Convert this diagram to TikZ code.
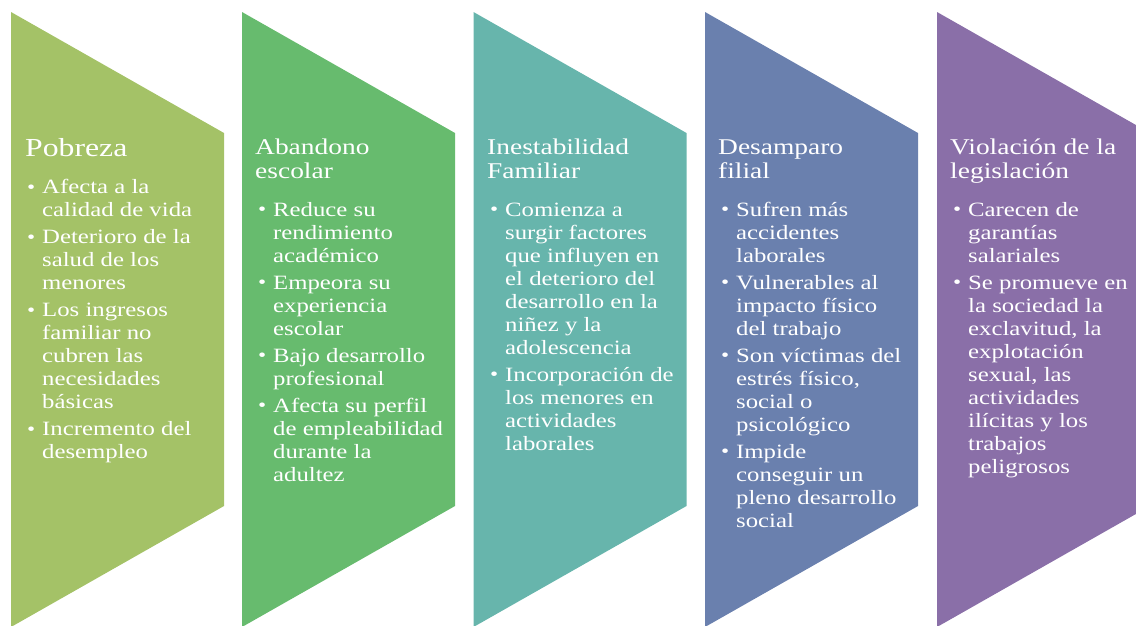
\documentclass[tikz,border=0pt]{standalone}
\usepackage{fontspec}
\setmainfont{Liberation Serif}[FakeStretch=1.22]
\usepackage{array}
\usetikzlibrary{positioning}

\definecolor{pobrezac}{RGB}{164,194,103}
\definecolor{abandonoc}{RGB}{103,187,110}
\definecolor{familiac}{RGB}{103,181,172}
\definecolor{filialc}{RGB}{106,128,174}
\definecolor{leyc}{RGB}{138,111,168}

\newcommand{\ttlfont}{\fontsize{22.5}{24.5}\selectfont}
\newcommand{\bigttlfont}{\fontsize{26}{28}\selectfont}
\newcommand{\lstfont}{\fontsize{20.3}{23}\selectfont}
\newcommand{\bdot}{\raisebox{0.5pt}{\fontsize{19}{19}\selectfont\textbullet}}
\newcommand{\tlines}[1]{\begin{tabular}[t]{@{}l@{}}#1\end{tabular}}
\newcommand{\blist}[1]{\begin{tabular}[t]{@{}p{15pt}@{}l@{}}#1\end{tabular}}

\begin{document}
\begin{tikzpicture}[x=1pt,y=-1pt,
		ttl/.style={anchor=base west,inner sep=0pt,text=white,font=\ttlfont},
		lst/.style={anchor=base west,inner sep=0pt,text=white,font=\lstfont}
		]
		\clip (0,0) rectangle (1136,625);
		% chevrons
		\fill[pobrezac] (11,12) -- (224,133) -- (224,506) -- (11,627) -- cycle;
		\fill[abandonoc] (242,12) -- (455,133) -- (455,506) -- (242,627) -- cycle;
		\fill[familiac] (473.5,12) -- (686.5,133) -- (686.5,506) -- (473.5,627) -- cycle;
		\fill[filialc] (705,12) -- (918,133) -- (918,506) -- (705,627) -- cycle;
		\fill[leyc] (937,12) -- (1150,133) -- (1150,506) -- (937,627) -- cycle;
		% titles
		\node[ttl, font=\bigttlfont](T1) at (25,156){Pobreza};
		\node[ttl](T2) at (255,154){\tlines{Abandono\\escolar}};
		\node[ttl](T3) at (487,154){\tlines{Inestabilidad\\Familiar}};
		\node[ttl](T4) at (718,154){\tlines{Desamparo\\filial}};
		\node[ttl](T5) at (950,154){\tlines{Violación de la\\legislación}};
		% bullets
		\node[lst](L1) at ([shift={(2,37.5)}]T1.base west){\blist{
				\bdot & Afecta a la\\ & calidad de vida\\[4pt]
				\bdot & Deterioro de la\\ & salud de los\\ & menores\\[4pt]
				\bdot & Los ingresos\\ & familiar no\\ & cubren las\\ & necesidades\\ & básicas\\[4pt]
				\bdot & Incremento del\\ & desempleo}};
		\node[lst](L2) at ([shift={(3,62)}]T2.base west){\blist{
				\bdot & Reduce su\\ & rendimiento\\ & académico\\[4pt]
				\bdot & Empeora su\\ & experiencia\\ & escolar\\[4pt]
				\bdot & Bajo desarrollo\\ & profesional\\[4pt]
				\bdot & Afecta su perfil\\ & de empleabilidad\\ & durante la\\ & adultez}};
		\node[lst](L3) at ([shift={(3,62)}]T3.base west){\blist{
				\bdot & Comienza a\\ & surgir factores\\ & que influyen en\\ & el deterioro del\\ & desarrollo en la\\ & niñez y la\\ & adolescencia\\[4pt]
				\bdot & Incorporación de\\ & los menores en\\ & actividades\\ & laborales}};
		\node[lst](L4) at ([shift={(3,62)}]T4.base west){\blist{
				\bdot & Sufren más\\ & accidentes\\ & laborales\\[4pt]
				\bdot & Vulnerables al\\ & impacto físico\\ & del trabajo\\[4pt]
				\bdot & Son víctimas del\\ & estrés físico,\\ & social o\\ & psicológico\\[4pt]
				\bdot & Impide\\ & conseguir un\\ & pleno desarrollo\\ & social}};
		\node[lst](L5) at ([shift={(3,62)}]T5.base west){\blist{
				\bdot & Carecen de\\ & garantías\\ & salariales\\[4pt]
				\bdot & Se promueve en\\ & la sociedad la\\ & exclavitud, la\\ & explotación\\ & sexual, las\\ & actividades\\ & ilícitas y los\\ & trabajos\\ & peligrosos}};
	\end{tikzpicture}
\end{document}
